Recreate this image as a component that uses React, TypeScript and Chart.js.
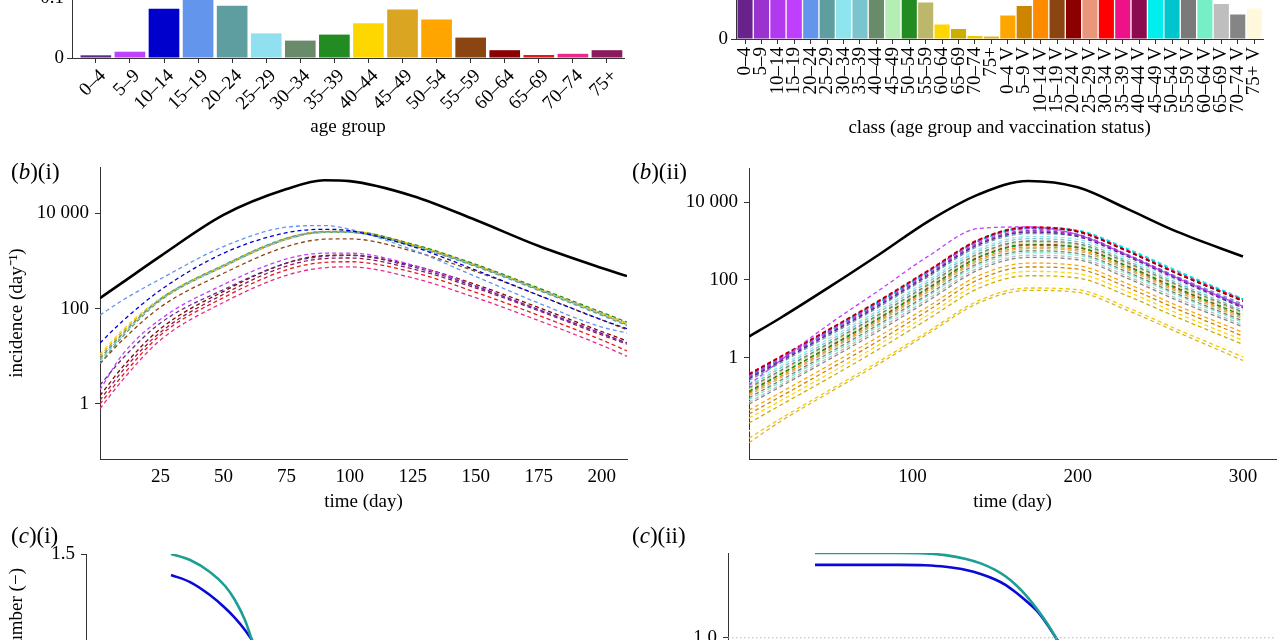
import React, { useEffect, useRef } from "react";
import { Chart, registerables } from "chart.js";
Chart.register(...registerables);

const FONT = '"Liberation Serif", "Times New Roman", Times, serif';
const AXIS = "#333333";
Chart.defaults.font.family = FONT;
Chart.defaults.font.size = 19;
Chart.defaults.color = "#000";

// ---------- (a)(i) age distribution ----------
const AGE_GROUPS = ["0–4", "5–9", "10–14", "15–19", "20–24", "25–29", "30–34", "35–39", "40–44", "45–49", "50–54", "55–59", "60–64", "65–69", "70–74", "75+"];
const AGE_FRACTION = [0.0045, 0.0105, 0.082, 0.104, 0.087, 0.041, 0.029, 0.039, 0.058, 0.081, 0.064, 0.034, 0.013, 0.005, 0.007, 0.013];
const AGE_COLORS = ["#5d2a8a", "#bf40ff", "#0000cd", "#6495ed", "#5f9ea0", "#90e0ef", "#698b69", "#228b22", "#ffd700", "#daa520", "#ffa500", "#8b4513", "#8b0000", "#e61919", "#ea2a8a", "#8b1a5c"];
const A1_Y_TICKS = [0, 0.1];
const A1_Y_LABELS = ["0", "0.1"];

// ---------- (a)(ii) class distribution ----------
const CLASS_LABELS = ["0–4", "5–9", "10–14", "15–19", "20–24", "25–29", "30–34", "35–39", "40–44", "45–49", "50–54", "55–59", "60–64", "65–69", "70–74", "75+",
  "0–4 V", "5–9 V", "10–14 V", "15–19 V", "20–24 V", "25–29 V", "30–34 V", "35–39 V", "40–44 V", "45–49 V", "50–54 V", "55–59 V", "60–64 V", "65–69 V", "70–74 V", "75+ V"];
const CLASS_FRACTION = [0.05, 0.052, 0.056, 0.058, 0.06, 0.062, 0.058, 0.057, 0.055, 0.052, 0.048, 0.0365, 0.0145, 0.010, 0.003, 0.0025,
  0.0235, 0.033, 0.046, 0.05, 0.052, 0.055, 0.058, 0.06, 0.06, 0.062, 0.06, 0.055, 0.05, 0.035, 0.0245, 0.0305];
const CLASS_COLORS = ["#68228b", "#9a32cd", "#b23aee", "#bf3eff", "#6495ed", "#5f9ea0", "#8ee5ee", "#7ac5cd", "#698b69", "#b4eeb4", "#228b22", "#bdb76b", "#ffd700", "#cdad00", "#eec900", "#dbb52c",
  "#ffa500", "#cd8500", "#ff8c00", "#8b4513", "#8b0000", "#e9967a", "#ff0000", "#ee1289", "#8b0a50", "#00eeee", "#00c5cd", "#7a7a7a", "#76eec6", "#bebebe", "#858585", "#fff8dc"];
const A2_Y_TICKS = [0, 0.05];
const A2_Y_LABELS = ["0", "0.05"];

// ---------- (b)(i) incidence by age group ----------
const B1_T = [1, 10, 25, 50, 75, 90, 100, 125, 150, 175, 200, 210];
const B1_TOTAL = [166, 355, 1260, 9200, 32000, 49000, 47000, 23000, 7200, 2050, 710, 480];
const B1_AGE = [
  [2.5, 9, 50, 250, 900, 1250, 1300, 750, 290, 95, 30, 19],
  [2, 11, 60, 320, 1100, 1450, 1450, 820, 300, 95, 30, 19],
  [19, 55, 245, 1450, 3900, 4600, 4300, 2000, 640, 190, 58, 38],
  [73, 150, 420, 2000, 5100, 5500, 4600, 1700, 470, 130, 41, 31],
  [9, 30, 160, 820, 3000, 4100, 4000, 2050, 760, 240, 72, 44],
  [8, 28, 152, 780, 2900, 4000, 3950, 2050, 770, 245, 74, 45],
  [7, 26, 148, 760, 2850, 3950, 3950, 2100, 790, 250, 76, 46],
  [8, 28, 155, 790, 2950, 4100, 4150, 2250, 850, 270, 84, 52],
  [11, 36, 165, 815, 3000, 4100, 4100, 2150, 800, 255, 78, 48],
  [10, 33, 160, 800, 2950, 4150, 4150, 2200, 820, 260, 80, 50],
  [9, 30, 152, 760, 2800, 3950, 3950, 2100, 790, 250, 77, 47],
  [7, 22, 108, 550, 2000, 2850, 2900, 1600, 600, 190, 58, 36],
  [1.5, 6, 38, 230, 900, 1300, 1320, 800, 320, 105, 33, 21],
  [1.0, 4, 28, 170, 650, 930, 960, 580, 220, 72, 22, 13],
  [0.8, 3.2, 22, 135, 500, 720, 750, 440, 170, 56, 17, 10],
  [1.2, 5, 32, 200, 780, 1120, 1150, 680, 270, 90, 28, 18],
];
const B_Y_TICKS = [1, 100, 10000];
const B_Y_LABELS = ["1", "100", "10 000"];
const B1_X_TICKS = [25, 50, 75, 100, 125, 150, 175, 200];

// ---------- (b)(ii) incidence by class ----------
const B2_T = [1, 20, 50, 80, 110, 140, 170, 200, 230, 260, 300];
const B2_TOTAL = [3.5, 10.5, 67, 457, 3300, 15800, 35000, 24000, 6700, 1740, 400];
const B2_CLASS = [
  [0.29, 0.8, 4.2, 22.5, 135, 810, 1700, 1300, 400, 105, 19],
  [0.31, 0.87, 4.5, 24.5, 147, 880, 1850, 1400, 430, 112, 20],
  [0.34, 0.96, 5.0, 27, 163, 975, 2050, 1500, 450, 118, 21],
  [0.2, 0.85, 7.5, 55, 420, 2100, 2300, 1450, 430, 112, 21],
  [0.29, 0.8, 4.2, 22.5, 135, 810, 1700, 1400, 450, 122, 24],
  [0.26, 0.73, 3.8, 20.5, 123, 738, 1550, 1300, 420, 115, 22],
  [0.22, 0.61, 3.2, 17.2, 103, 619, 1300, 1100, 355, 97, 19],
  [0.19, 0.54, 2.8, 15.2, 91, 548, 1150, 960, 310, 85, 16.5],
  [0.17, 0.47, 2.45, 13.2, 79, 476, 1000, 850, 280, 76, 15],
  [0.15, 0.42, 2.2, 11.9, 71, 429, 900, 770, 250, 68, 13],
  [0.13, 0.37, 1.9, 10.3, 62, 371, 780, 670, 220, 60, 12],
  [0.108, 0.3, 1.57, 8.5, 51, 305, 640, 550, 182, 50, 10],
  [0.028, 0.078, 0.4, 2.2, 13.1, 79, 165, 145, 50, 14, 2.8],
  [0.021, 0.06, 0.31, 1.7, 10.2, 61, 128, 112, 39, 11, 2.2],
  [0.0085, 0.027, 0.15, 0.82, 4.9, 29.5, 62, 56, 19.5, 5.4, 1.05],
  [0.0065, 0.023, 0.13, 0.71, 4.3, 25.7, 54, 48, 16.5, 4.6, 0.85],
  [0.045, 0.127, 0.66, 3.6, 21.4, 129, 270, 235, 80, 22, 4.5],
  [0.036, 0.1, 0.52, 2.8, 17, 102, 215, 190, 64, 18, 3.6],
  [0.12, 0.33, 1.7, 9.3, 56, 333, 700, 600, 200, 55, 11],
  [0.14, 0.38, 2.0, 10.8, 65, 390, 820, 700, 230, 63, 12.5],
  [0.37, 1.04, 5.4, 29, 175, 1048, 2200, 1750, 550, 145, 28],
  [0.16, 0.45, 2.3, 12.6, 75, 452, 950, 800, 265, 72, 14],
  [0.39, 1.08, 5.6, 30.4, 183, 1095, 2300, 1800, 560, 150, 30],
  [0.38, 1.06, 5.5, 29.8, 179, 1071, 2250, 1800, 580, 155, 31],
  [0.36, 1.01, 5.3, 28.4, 171, 1024, 2150, 1700, 540, 145, 29],
  [0.32, 0.95, 5.2, 28.5, 172, 1060, 2250, 1900, 640, 175, 33],
  [0.3, 0.9, 4.9, 27, 165, 1000, 2100, 1800, 600, 165, 31],
  [0.094, 0.26, 1.37, 7.4, 44, 267, 560, 480, 160, 44, 8.8],
  [0.084, 0.23, 1.22, 6.6, 40, 238, 500, 430, 145, 40, 8],
  [0.072, 0.2, 1.05, 5.7, 34, 205, 430, 370, 125, 34, 7],
  [0.064, 0.18, 0.93, 5.0, 30, 181, 380, 330, 110, 30, 6.2],
  [0.013, 0.036, 0.19, 1.0, 6.0, 36, 76, 68, 23, 6.5, 1.3],
];
const B2_X_TICKS = [100, 200, 300];

// ---------- (c) reproduction numbers ----------
const C1_T = [33, 40.4, 48.1, 54, 57.8, 61.7, 64.4, 68, 75];
const C1_TEAL = [1.5, 1.472, 1.417, 1.352, 1.287, 1.194, 1.102, 0.98, 0.78];
const C1_BLUE = [1.403, 1.37, 1.31, 1.25, 1.204, 1.148, 1.102, 1.04, 0.85];
const C1_Y_TICKS = [0.5, 1.0, 1.5];
const C2_T = [50.8, 100, 115, 127, 139, 148, 156, 162, 168, 174, 180, 186, 191.5, 200, 215];
const C2_TEAL = [1.4, 1.4, 1.398, 1.39, 1.372, 1.35, 1.32, 1.29, 1.25, 1.2, 1.14, 1.072, 1.0, 0.88, 0.68];
const C2_BLUE = [1.344, 1.344, 1.342, 1.335, 1.32, 1.3, 1.275, 1.25, 1.215, 1.175, 1.13, 1.068, 1.0, 0.89, 0.7];
const C2_Y_TICKS = [0.5, 1.0];
const C1_REF_T = [0, 210];
const C2_REF_T = [0, 320];
const REF_Y = [1, 1];

const TEAL = "#1b9e94";
const BLUE = "#0a0ad8";

type Box = { left: number; top: number; width: number; height: number };

function ChartCanvas({ box, build }: { box: Box; build: () => any }) {
  const ref = useRef<HTMLCanvasElement | null>(null);
  useEffect(() => {
    if (!ref.current) return;
    const chart = new Chart(ref.current, build());
    return () => chart.destroy();
  }, []);
  return (
    <canvas
      ref={ref}
      width={box.width}
      height={box.height}
      style={{ position: "absolute", left: box.left, top: box.top, width: box.width, height: box.height }}
    />
  );
}

const pts = (xs: number[], ys: number[]) => xs.map((x, i) => ({ x, y: ys[i] }));

function lineDs(xs: number[], ys: number[], color: string, width: number, dash: number[] = []) {
  return {
    data: pts(xs, ys),
    borderColor: color,
    borderWidth: width,
    borderDash: dash,
    pointRadius: 0,
    fill: false,
    cubicInterpolationMode: "monotone",
  };
}

const baseOptions = (padding: any) => ({
  animation: false,
  responsive: false,
  events: [],
  layout: { padding },
  plugins: { legend: { display: false }, tooltip: { enabled: false } },
});

const gridOpts = (drawTicks: boolean) => ({
  display: true,
  drawOnChartArea: false,
  drawTicks,
  tickLength: 5,
  color: AXIS,
});
const borderOpts = { display: true, color: AXIS, width: 1 };

function setTicks(values: number[]) {
  return (s: any) => {
    s.ticks = values.map((v) => ({ value: v }));
  };
}

function barConfig(values: number[], colors: string[], labels: string[], o: any) {
  return {
    type: "bar",
    data: {
      datasets: [
        {
          data: values.map((v, i) => ({ x: i, y: v })),
          backgroundColor: colors,
          borderWidth: 0,
          barPercentage: o.barPct,
          categoryPercentage: 1,
        },
      ],
    },
    options: {
      ...baseOptions(o.padding),
      scales: {
        x: {
          type: "linear",
          min: o.xmin,
          max: o.xmax,
          offset: false,
          grid: { ...gridOpts(true), offset: false },
          border: borderOpts,
          afterBuildTicks: setTicks(labels.map((_, i) => i)),
          afterFit: (s: any) => {
            s.height = o.xh;
          },
          ticks: {
            autoSkip: false,
            minRotation: o.rot,
            maxRotation: o.rot,
            padding: o.xpad,
            labelOffset: o.labelOffset,
            callback: (v: number) => labels[Math.round(v)],
          },
          title: { display: true, text: o.title, padding: { top: 0, bottom: 7 } },
        },
        y: {
          type: "linear",
          min: 0,
          max: o.ymax,
          grid: gridOpts(true),
          border: borderOpts,
          afterBuildTicks: setTicks(o.yTicks),
          afterFit: (s: any) => {
            s.width = o.yw;
          },
          ticks: { padding: 3, callback: (_v: number, i: number) => o.yLabels[i] },
        },
      },
    },
  };
}

function incidenceConfig(o: any) {
  const datasets = o.series.map((ys: number[], i: number) => lineDs(o.t, ys, o.colors[i], 1.3, [4, 3]));
  datasets.push(lineDs(o.t, o.total, "#000", 2.6));
  return {
    type: "line",
    data: { datasets },
    options: {
      ...baseOptions(o.padding),
      scales: {
        x: {
          type: "linear",
          min: o.xmin,
          max: o.xmax,
          grid: gridOpts(false),
          border: borderOpts,
          afterBuildTicks: setTicks(o.xTicks),
          afterFit: (s: any) => {
            s.height = 56;
          },
          ticks: { autoSkip: false, maxRotation: 0, padding: 7 },
          title: { display: true, text: "time (day)", padding: { top: 0, bottom: 2 } },
        },
        y: {
          type: "logarithmic",
          min: o.ymin,
          max: o.ymax,
          grid: gridOpts(true),
          border: borderOpts,
          afterBuildTicks: setTicks(B_Y_TICKS),
          afterFit: (s: any) => {
            s.width = o.yw;
          },
          ticks: { padding: 6, callback: (_v: number, i: number) => B_Y_LABELS[i] },
          title: o.ytitle
            ? { display: true, text: o.ytitle, padding: { top: 6, bottom: 0 } }
            : { display: false },
        },
      },
    },
  };
}

function rConfig(o: any) {
  return {
    type: "line",
    data: {
      datasets: [
        lineDs(o.refT, REF_Y, "#b5b5b5", 1, [1.5, 2.5]),
        lineDs(o.t, o.teal, TEAL, 2.6),
        lineDs(o.t, o.blue, BLUE, 2.6),
      ],
    },
    options: {
      ...baseOptions(o.padding),
      scales: {
        x: {
          type: "linear",
          min: o.xmin,
          max: o.xmax,
          grid: gridOpts(false),
          border: borderOpts,
          afterFit: (s: any) => {
            s.height = 40;
          },
          ticks: { display: false },
        },
        y: {
          type: "linear",
          min: o.ymin,
          max: o.ymax,
          grid: gridOpts(true),
          border: borderOpts,
          afterBuildTicks: setTicks(o.yTicks),
          afterFit: (s: any) => {
            s.width = o.yw;
          },
          ticks: { padding: 6, callback: (v: number) => v.toFixed(1) },
          title: o.ytitle
            ? { display: true, text: o.ytitle, padding: { top: 6, bottom: 0 } }
            : { display: false },
        },
      },
    },
  };
}

function PanelLabel({ left, top, letter, roman }: { left: number; top: number; letter: string; roman: string }) {
  return (
    <div
      style={{
        position: "absolute",
        left,
        top,
        fontFamily: FONT,
        fontSize: 23,
        lineHeight: "23px",
        whiteSpace: "nowrap",
        color: "#000",
      }}
    >
      (<i>{letter}</i>)({roman})
    </div>
  );
}

export default function App() {
  return (
    <div
      style={{
        position: "absolute",
        left: 0,
        top: 0,
        width: 1280,
        height: 640,
        overflow: "hidden",
        background: "#fff",
      }}
    >
      <ChartCanvas
        box={{ left: 0, top: -28, width: 640, height: 173 }}
        build={() =>
          barConfig(AGE_FRACTION, AGE_COLORS, AGE_GROUPS, {
            padding: { top: 20, right: 16, left: 0, bottom: 0 },
            xmin: -0.7,
            xmax: 15.5,
            xh: 87,
            rot: 45,
            xpad: 2,
            labelOffset: 7,
            barPct: 0.9,
            title: "age group",
            ymax: 0.11,
            yTicks: A1_Y_TICKS,
            yLabels: A1_Y_LABELS,
            yw: 72,
          })
        }
      />
      <ChartCanvas
        box={{ left: 640, top: -49, width: 640, height: 195 }}
        build={() =>
          barConfig(CLASS_FRACTION, CLASS_COLORS, CLASS_LABELS, {
            padding: { top: 18, right: 3, left: 0, bottom: 0 },
            xmin: -0.55,
            xmax: 31.55,
            xh: 107,
            rot: 90,
            xpad: 3,
            labelOffset: 0,
            barPct: 0.92,
            title: "class (age group and vaccination status)",
            ymax: 0.07,
            yTicks: A2_Y_TICKS,
            yLabels: A2_Y_LABELS,
            yw: 96,
          })
        }
      />
      <ChartCanvas
        box={{ left: 0, top: 149, width: 640, height: 366 }}
        build={() =>
          incidenceConfig({
            padding: { top: 18, right: 13, left: 0, bottom: 0 },
            t: B1_T,
            series: B1_AGE,
            colors: AGE_COLORS,
            total: B1_TOTAL,
            xmin: 1,
            xmax: 210,
            xTicks: B1_X_TICKS,
            ymin: 0.0703,
            ymax: 93000,
            yw: 100,
            ytitle: "incidence (day⁻¹)",
          })
        }
      />
      <ChartCanvas
        box={{ left: 640, top: 150, width: 640, height: 365 }}
        build={() =>
          incidenceConfig({
            padding: { top: 18, right: 4, left: 0, bottom: 0 },
            t: B2_T,
            series: B2_CLASS,
            colors: CLASS_COLORS,
            total: B2_TOTAL,
            xmin: 1,
            xmax: 320,
            xTicks: B2_X_TICKS,
            ymin: 0.00249,
            ymax: 75300,
            yw: 109,
            ytitle: null,
          })
        }
      />
      <ChartCanvas
        box={{ left: 0, top: 536, width: 640, height: 274 }}
        build={() =>
          rConfig({
            padding: { top: 18, right: 13, left: 0, bottom: 0 },
            t: C1_T,
            teal: C1_TEAL,
            blue: C1_BLUE,
            refT: C1_REF_T,
            xmin: 0,
            xmax: 210,
            ymin: 0.5,
            ymax: 1.5,
            yTicks: C1_Y_TICKS,
            yw: 86,
            ytitle: "reproduction number (−)",
          })
        }
      />
      <ChartCanvas
        box={{ left: 640, top: 535, width: 640, height: 270 }}
        build={() =>
          rConfig({
            padding: { top: 18, right: 4, left: 0, bottom: 0 },
            t: C2_T,
            teal: C2_TEAL,
            blue: C2_BLUE,
            refT: C2_REF_T,
            xmin: 0,
            xmax: 320,
            ymin: 0.4,
            ymax: 1.4,
            yTicks: C2_Y_TICKS,
            yw: 88,
            ytitle: null,
          })
        }
      />
      <PanelLabel left={11} top={160} letter="b" roman="i" />
      <PanelLabel left={632} top={160} letter="b" roman="ii" />
      <PanelLabel left={11} top={524} letter="c" roman="i" />
      <PanelLabel left={632} top={524} letter="c" roman="ii" />
    </div>
  );
}
